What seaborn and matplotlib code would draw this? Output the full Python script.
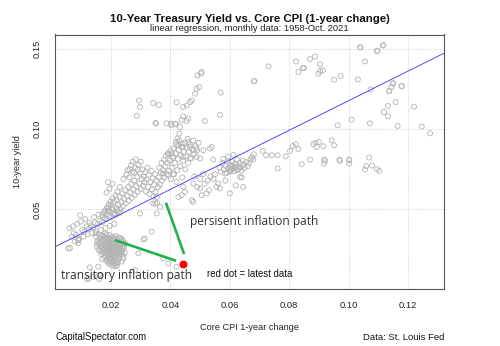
import numpy as np
import pandas as pd
import matplotlib
matplotlib.use("Agg")
import matplotlib.pyplot as plt
import seaborn as sns

# ---- data: (core CPI 1-yr change, 10-year yield) ----
band_pts = [(0.0060,0.0382),(0.0068,0.0330),(0.0075,0.0352),(0.0082,0.0341),(0.0090,0.0309),(0.0096,0.0464),
            (0.0103,0.0372),(0.0110,0.0360),(0.0118,0.0395),(0.0125,0.0378),(0.0132,0.0402),(0.0140,0.0389),
            (0.0147,0.0415),(0.0155,0.0408),(0.0162,0.0430),(0.0170,0.0421),(0.0178,0.0445),(0.0185,0.0438),
            (0.0193,0.0460),(0.0200,0.0452),(0.0208,0.0472),(0.0215,0.0466),(0.0223,0.0488),(0.0230,0.0480),
            (0.0072,0.0395),(0.0086,0.0410),(0.0099,0.0425),(0.0113,0.0440),(0.0128,0.0418),(0.0143,0.0452),
            (0.0158,0.0468),(0.0173,0.0455),(0.0189,0.0490),(0.0204,0.0498),(0.0219,0.0510),
            (0.0079,0.0300),(0.0093,0.0318),(0.0107,0.0330),(0.0121,0.0345),(0.0136,0.0352),(0.0151,0.0365),
            (0.0166,0.0372),(0.0181,0.0385),(0.0196,0.0398),(0.0211,0.0410),(0.0056,0.0257),(0.0090,0.0309),
            (0.0062,0.0259),(0.0090,0.0290)]

mid_pts = [(0.0185,0.0470),(0.0190,0.0505),(0.0195,0.0488),(0.0200,0.0530),(0.0205,0.0512),(0.0210,0.0548),
           (0.0212,0.0475),(0.0218,0.0560),(0.0220,0.0495),(0.0225,0.0528),(0.0228,0.0580),(0.0232,0.0505),
           (0.0235,0.0545),(0.0238,0.0600),(0.0240,0.0520),(0.0245,0.0565),(0.0248,0.0620),(0.0250,0.0538),
           (0.0255,0.0585),(0.0258,0.0640),(0.0260,0.0555),(0.0262,0.0700),(0.0265,0.0605),(0.0268,0.0660),
           (0.0270,0.0572),(0.0272,0.0735),(0.0275,0.0625),(0.0278,0.0680),(0.0280,0.0590),(0.0282,0.0760),
           (0.0285,0.0645),(0.0288,0.0705),(0.0290,0.0610),(0.0292,0.0780),(0.0295,0.0662),(0.0298,0.0725),
           (0.0300,0.0628),(0.0303,0.0690),(0.0305,0.0750),(0.0308,0.0648),(0.0310,0.0705),(0.0313,0.0670),
           (0.0315,0.0732),(0.0318,0.0612),(0.0320,0.0688),(0.0323,0.0760),(0.0325,0.0640),(0.0328,0.0715),
           (0.0330,0.0595),(0.0333,0.0670),(0.0336,0.0740),(0.0338,0.0625),(0.0340,0.0695),(0.0343,0.0580),
           (0.0345,0.0655),(0.0348,0.0720),(0.0350,0.0610),(0.0353,0.0680),(0.0355,0.0540),(0.0358,0.0640),
           (0.0242,0.0690),(0.0252,0.0718),(0.0263,0.0752),(0.0273,0.0798),(0.0283,0.0812),(0.0268,0.0775),
           (0.0256,0.0745),(0.0300,0.0798),(0.0290,0.0748),(0.0278,0.0728),(0.0215,0.0588),(0.0222,0.0610),
           (0.0230,0.0640),(0.0205,0.0570),(0.0198,0.0548),(0.0192,0.0530),(0.0186,0.0512),(0.0180,0.0495),
           (0.0175,0.0478),(0.0170,0.0465),(0.0185,0.0605),(0.0195,0.0630),(0.0205,0.0660),(0.0190,0.0670),
           (0.0354,0.0475),(0.0349,0.0537),(0.0298,0.0475)]

upmid_pts = [(0.0360,0.0700),(0.0362,0.0760),(0.0365,0.0655),(0.0368,0.0730),(0.0370,0.0790),(0.0372,0.0680),
             (0.0375,0.0745),(0.0378,0.0810),(0.0380,0.0700),(0.0383,0.0768),(0.0385,0.0835),(0.0388,0.0720),
             (0.0390,0.0790),(0.0392,0.0850),(0.0395,0.0740),(0.0398,0.0805),(0.0400,0.0865),(0.0402,0.0690),
             (0.0405,0.0760),(0.0408,0.0830),(0.0410,0.0880),(0.0412,0.0720),(0.0415,0.0790),(0.0418,0.0850),
             (0.0420,0.0905),(0.0423,0.0745),(0.0425,0.0815),(0.0428,0.0870),(0.0430,0.0930),(0.0433,0.0770),
             (0.0435,0.0838),(0.0438,0.0890),(0.0440,0.0700),(0.0443,0.0805),(0.0445,0.0860),(0.0448,0.0915),
             (0.0450,0.0750),(0.0453,0.0830),(0.0455,0.0885),(0.0458,0.0940),(0.0460,0.0790),(0.0463,0.0858),
             (0.0466,0.0905),(0.0470,0.0820),(0.0473,0.0875),(0.0477,0.0930),(0.0480,0.0845),(0.0485,0.0895),
             (0.0490,0.0868),(0.0495,0.0915),(0.0376,0.0724),(0.0393,0.0714),(0.0410,0.0720),(0.0421,0.0672),
             (0.0443,0.0641),(0.0477,0.0662),(0.0500,0.0631),(0.0505,0.0589),(0.0522,0.0600),(0.0472,0.0558),
             (0.0477,0.0547),(0.0561,0.0662),(0.0567,0.0631),(0.0600,0.0600),(0.0584,0.0724),(0.0600,0.0734),
             (0.0634,0.0703),(0.0645,0.0641),(0.0449,0.0610),(0.0427,0.0578),(0.0438,0.0589),(0.0354,0.0578),
             (0.0342,0.0537),(0.0365,0.0516)]

column_pts = [(0.0294,0.1180),(0.0298,0.1139),(0.0287,0.1085),(0.0342,0.1164),(0.0361,0.1151),(0.0421,0.1168),
              (0.0352,0.1037),(0.0387,0.1037),(0.0404,0.1025),(0.0419,0.1031),(0.0516,0.1052),(0.0569,0.1229),
              (0.0567,0.1090),(0.0683,0.1301),(0.0443,0.1139),(0.0455,0.1149),(0.0466,0.1170),(0.0472,0.1180),
              (0.0488,0.1253),(0.0497,0.1263),(0.0483,0.1222),(0.0491,0.1336),(0.0503,0.1347),(0.0505,0.1357),
              (0.0443,0.1081),(0.0460,0.1067),(0.0455,0.1052),(0.0438,0.1056),(0.0432,0.1014),(0.0430,0.0973),
              (0.0423,0.0942),(0.0419,0.0921),(0.0427,0.0900),(0.0438,0.0911),(0.0443,0.0890),(0.0460,0.0921),
              (0.0466,0.0890),(0.0477,0.0869),(0.0488,0.0880),(0.0511,0.0869),(0.0533,0.0880),(0.0539,0.0890),
              (0.0404,0.0849),(0.0393,0.0844),(0.0410,0.0821),(0.0443,0.0828),(0.0466,0.0818),(0.0488,0.0828),
              (0.0500,0.0818),(0.0544,0.0811),(0.0350,0.1039),(0.0402,0.1035),(0.0416,0.1035)]

rmid_pts = [(0.0565,0.0760),(0.0570,0.0735),(0.0575,0.0790),(0.0580,0.0750),(0.0585,0.0772),(0.0590,0.0728),
            (0.0592,0.0800),(0.0595,0.0758),(0.0598,0.0742),(0.0600,0.0780),(0.0603,0.0765),(0.0605,0.0748),
            (0.0608,0.0795),(0.0610,0.0772),(0.0613,0.0755),(0.0615,0.0738),(0.0618,0.0785),(0.0620,0.0762),
            (0.0623,0.0745),(0.0625,0.0810),(0.0628,0.0770),(0.0630,0.0752),(0.0633,0.0790),(0.0636,0.0765),
            (0.0640,0.0742),(0.0643,0.0805),(0.0646,0.0778),(0.0650,0.0758),(0.0655,0.0795),(0.0660,0.0770),
            (0.0665,0.0790),(0.0670,0.0812),(0.0675,0.0825),(0.0550,0.0720),(0.0545,0.0690),(0.0535,0.0705),
            (0.0525,0.0680),(0.0515,0.0660),(0.0510,0.0720),(0.0500,0.0690),(0.0555,0.0640),(0.0530,0.0620),
            (0.0490,0.0640),(0.0480,0.0705),(0.0585,0.0680),(0.0620,0.0650),(0.0640,0.0700),(0.0595,0.0830),
            (0.0578,0.0815),(0.0612,0.0840)]

right_pts = [(0.1038,0.1512),(0.1117,0.1525),(0.1095,0.1488),(0.1055,0.1423),(0.1031,0.1311),(0.0823,0.1423),
             (0.0870,0.1438),(0.0887,0.1453),(0.0904,0.1405),(0.0845,0.1382),(0.0850,0.1382),(0.0831,0.1357),
             (0.0904,0.1363),(0.0913,0.1367),(0.0898,0.1347),(0.0951,0.1309),(0.0973,0.1332),(0.0730,0.1392),
             (0.0681,0.1300),(0.1148,0.1285),(0.1179,0.1270),(0.1145,0.1263),(0.1136,0.1237),(0.1074,0.1249),
             (0.1158,0.1170),(0.1132,0.1145),(0.1220,0.1141),(0.1119,0.1108),(0.1132,0.1081),(0.1010,0.1060),
             (0.1072,0.1037),(0.0963,0.1025),(0.1165,0.1021),(0.1246,0.1017),(0.1274,0.0975),
             (0.0822,0.0907),(0.0812,0.0896),(0.0831,0.0877),(0.0881,0.0907),(0.0889,0.0915),(0.0900,0.0921),
             (0.0893,0.0890),(0.0915,0.0894),(0.0943,0.0931),(0.0951,0.0900),(0.0803,0.0865),(0.0711,0.0865),
             (0.0722,0.0838),(0.0741,0.0838),(0.0761,0.0838),(0.0788,0.0832),(0.0870,0.0811),(0.0917,0.0811),
             (0.0969,0.0811),(0.1002,0.0811),(0.1069,0.0824),(0.1055,0.0749),(0.1059,0.0770),(0.1079,0.0774),
             (0.1095,0.0751),(0.1103,0.0740),(0.1002,0.0807),(0.1002,0.0786),(0.0971,0.0803),(0.0917,0.0786),
             (0.0921,0.0803),(0.0842,0.0782),(0.0761,0.0755),(0.0679,0.0811),(0.0681,0.0844),
             (0.1040,0.1510),(0.1115,0.1522),(0.1097,0.1490),(0.1150,0.1287),(0.1178,0.1268),(0.1137,0.1240)]

trans_pts = [(0.0150,0.0330),(0.0155,0.0305),(0.0158,0.0345),(0.0160,0.0285),(0.0163,0.0320),(0.0165,0.0262),
             (0.0168,0.0338),(0.0170,0.0300),(0.0172,0.0245),(0.0175,0.0318),(0.0177,0.0278),(0.0180,0.0350),
             (0.0182,0.0230),(0.0184,0.0295),(0.0186,0.0262),(0.0188,0.0325),(0.0190,0.0210),(0.0192,0.0280),
             (0.0194,0.0245),(0.0196,0.0340),(0.0198,0.0305),(0.0200,0.0195),(0.0202,0.0265),(0.0204,0.0228),
             (0.0206,0.0315),(0.0208,0.0180),(0.0210,0.0290),(0.0212,0.0250),(0.0214,0.0212),(0.0216,0.0335),
             (0.0218,0.0165),(0.0220,0.0272),(0.0222,0.0235),(0.0224,0.0300),(0.0226,0.0195),(0.0228,0.0258),
             (0.0230,0.0320),(0.0232,0.0218),(0.0234,0.0280),(0.0236,0.0175),(0.0238,0.0242),(0.0240,0.0305),
             (0.0242,0.0205),(0.0244,0.0262),(0.0185,0.0180),(0.0195,0.0160),(0.0205,0.0150),(0.0215,0.0145),
             (0.0178,0.0200),(0.0168,0.0222),(0.0158,0.0250),(0.0152,0.0270),(0.0200,0.0240),(0.0210,0.0225),
             (0.0190,0.0232),(0.0225,0.0248),(0.0215,0.0282),(0.0195,0.0272),(0.0205,0.0288),(0.0185,0.0308),
             (0.0120,0.0065),(0.0125,0.0070),(0.0160,0.0066),(0.0165,0.0087),(0.0160,0.0092),(0.0140,0.0080),
             (0.0129,0.0139),(0.0157,0.0143),(0.0281,0.0122),(0.0314,0.0319),(0.0337,0.0361),(0.0309,0.0313),
             (0.0292,0.0226),(0.0393,0.0164),(0.0421,0.0143),(0.0376,0.0195)]

trans2_pts = [(0.0162,0.0298),(0.0167,0.0275),(0.0171,0.0312),(0.0174,0.0258),(0.0179,0.0288),(0.0181,0.0241),
              (0.0183,0.0318),(0.0187,0.0248),(0.0189,0.0292),(0.0191,0.0222),(0.0193,0.0305),(0.0196,0.0258),
              (0.0197,0.0198),(0.0199,0.0282),(0.0201,0.0215),(0.0203,0.0305),(0.0205,0.0248),(0.0207,0.0198),
              (0.0209,0.0272),(0.0211,0.0232),(0.0213,0.0178),(0.0215,0.0262),(0.0217,0.0205),(0.0219,0.0298),
              (0.0221,0.0185),(0.0223,0.0252),(0.0225,0.0222),(0.0227,0.0282),(0.0229,0.0208),(0.0231,0.0262),
              (0.0233,0.0238),(0.0235,0.0300),(0.0237,0.0222),(0.0239,0.0268),(0.0241,0.0192),(0.0243,0.0285),
              (0.0176,0.0335),(0.0186,0.0342),(0.0196,0.0322),(0.0206,0.0330),(0.0216,0.0318),(0.0226,0.0325),
              (0.0236,0.0318),(0.0194,0.0175),(0.0204,0.0168),(0.0212,0.0160),(0.0220,0.0152),(0.0198,0.0188),
              (0.0188,0.0195),(0.0180,0.0215),(0.0172,0.0232),(0.0164,0.0240),(0.0208,0.0210),(0.0218,0.0238),
              (0.0228,0.0242),(0.0238,0.0255),(0.0184,0.0270),(0.0192,0.0258),(0.0202,0.0252),(0.0212,0.0268),
              (0.0148,0.0352),(0.0153,0.0288),(0.0246,0.0232),(0.0247,0.0290),(0.0170,0.0190),(0.0223,0.0170),
              (0.0200,0.0175),(0.0190,0.0168)]

latest_cpi = [0.0443]
latest_yield = [0.0161]

x_ticks = [0.02, 0.04, 0.06, 0.08, 0.10, 0.12]
x_labels = ["0.02", "0.04", "0.06", "0.08", "0.10", "0.12"]
y_ticks = [0.05, 0.10, 0.15]
y_labels = ["0.05", "0.10", "0.15"]

all_pts = band_pts + mid_pts + upmid_pts + column_pts + rmid_pts + right_pts + trans_pts + trans2_pts
df = pd.DataFrame(all_pts, columns=["cpi", "yld"])

sns.set_style("white")
plt.rcParams['font.family'] = ['Liberation Sans', 'DejaVu Sans']

W, H = 500, 346
fig = plt.figure(figsize=(5, 3.46), dpi=100)
L, R, T, B = 55, 444, 34.5, 288.5
ax = fig.add_axes([L / W, 1 - B / H, (R - L) / W, (B - T) / H])
ax.set_xlim(0.00115, 0.1321)
ax.set_ylim(0.0007, 0.1591)

ax.set_xticks(x_ticks)
ax.set_xticklabels(x_labels)
ax.set_yticks(y_ticks)
ax.set_yticklabels(y_labels, rotation=90, va="center")
ax.tick_params(axis="both", direction="out", length=4.3, width=0.7, color="#333333",
               labelsize=6.7, labelcolor="#222222", pad=5.0)
ax.grid(True, color="#d0d0d0", linestyle=(0, (1.5, 1.5)), linewidth=0.6)
ax.set_axisbelow(True)
for s in ax.spines.values():
    s.set_color("#555555")
    s.set_linewidth(0.8)

sns.scatterplot(data=df, x="cpi", y="yld", ax=ax, marker="o", s=13,
                facecolors="none", edgecolor="#b3b3b3", linewidth=0.6, legend=False)
sns.regplot(data=df, x="cpi", y="yld", ax=ax, scatter=False, ci=None, truncate=False,
            line_kws={"color": "#3333ff", "linewidth": 0.6})
ax.set_xlim(0.00115, 0.1321)
ax.set_ylim(0.0007, 0.1591)
ax.set_xlabel("")
ax.set_ylabel("")

# annotations
ax.plot([0.0385, 0.0446], [0.0541, 0.0222], color="#22b14c", linewidth=1.9, solid_capstyle="butt")
ax.plot([0.0213, 0.0419], [0.0309, 0.0180], color="#22b14c", linewidth=1.9, solid_capstyle="butt")
ax.scatter(latest_cpi, latest_yield, s=22, color="#ff0000", zorder=5)
ax.text(0.0466, 0.0423, "persisent inflation path", fontsize=8.6, family=["Open Sans", "DejaVu Sans"],
        color="#333333", va="center", ha="left")
ax.text(0.00307, 0.0085, "transitory inflation path", fontsize=8.6, family=["Open Sans", "DejaVu Sans"],
        color="#333333", va="center", ha="left")
ax.text(0.0523, 0.0097, "red dot = latest data", fontsize=6.9, color="#111111", va="center", ha="left")

fig.text(249.5 / W, 1 - 19 / H, "10-Year Treasury Yield vs. Core CPI (1-year change)",
         fontsize=8.2, fontweight="bold", ha="center", va="center", color="#111111")
fig.text(249.5 / W, 1 - 28.5 / H, "linear regression, monthly data: 1958-Oct. 2021",
         fontsize=6.75, ha="center", va="center", color="#222222")
fig.text(249.5 / W, 1 - 327 / H, "Core CPI 1-year change", fontsize=6.6, ha="center", va="center", color="#222222")
fig.text(17 / W, 1 - 161.5 / H, "10-year yield", fontsize=6.6, rotation=90, ha="center", va="center", color="#222222")
fig.text(55 / W, 1 - 337 / H, "CapitalSpectator.com", fontsize=6.9, ha="left", va="center", color="#111111")
fig.text(444 / W, 1 - 337 / H, "Data: St. Louis Fed", fontsize=6.8, ha="right", va="center", color="#111111")

fig.savefig("out.png", dpi=100)
